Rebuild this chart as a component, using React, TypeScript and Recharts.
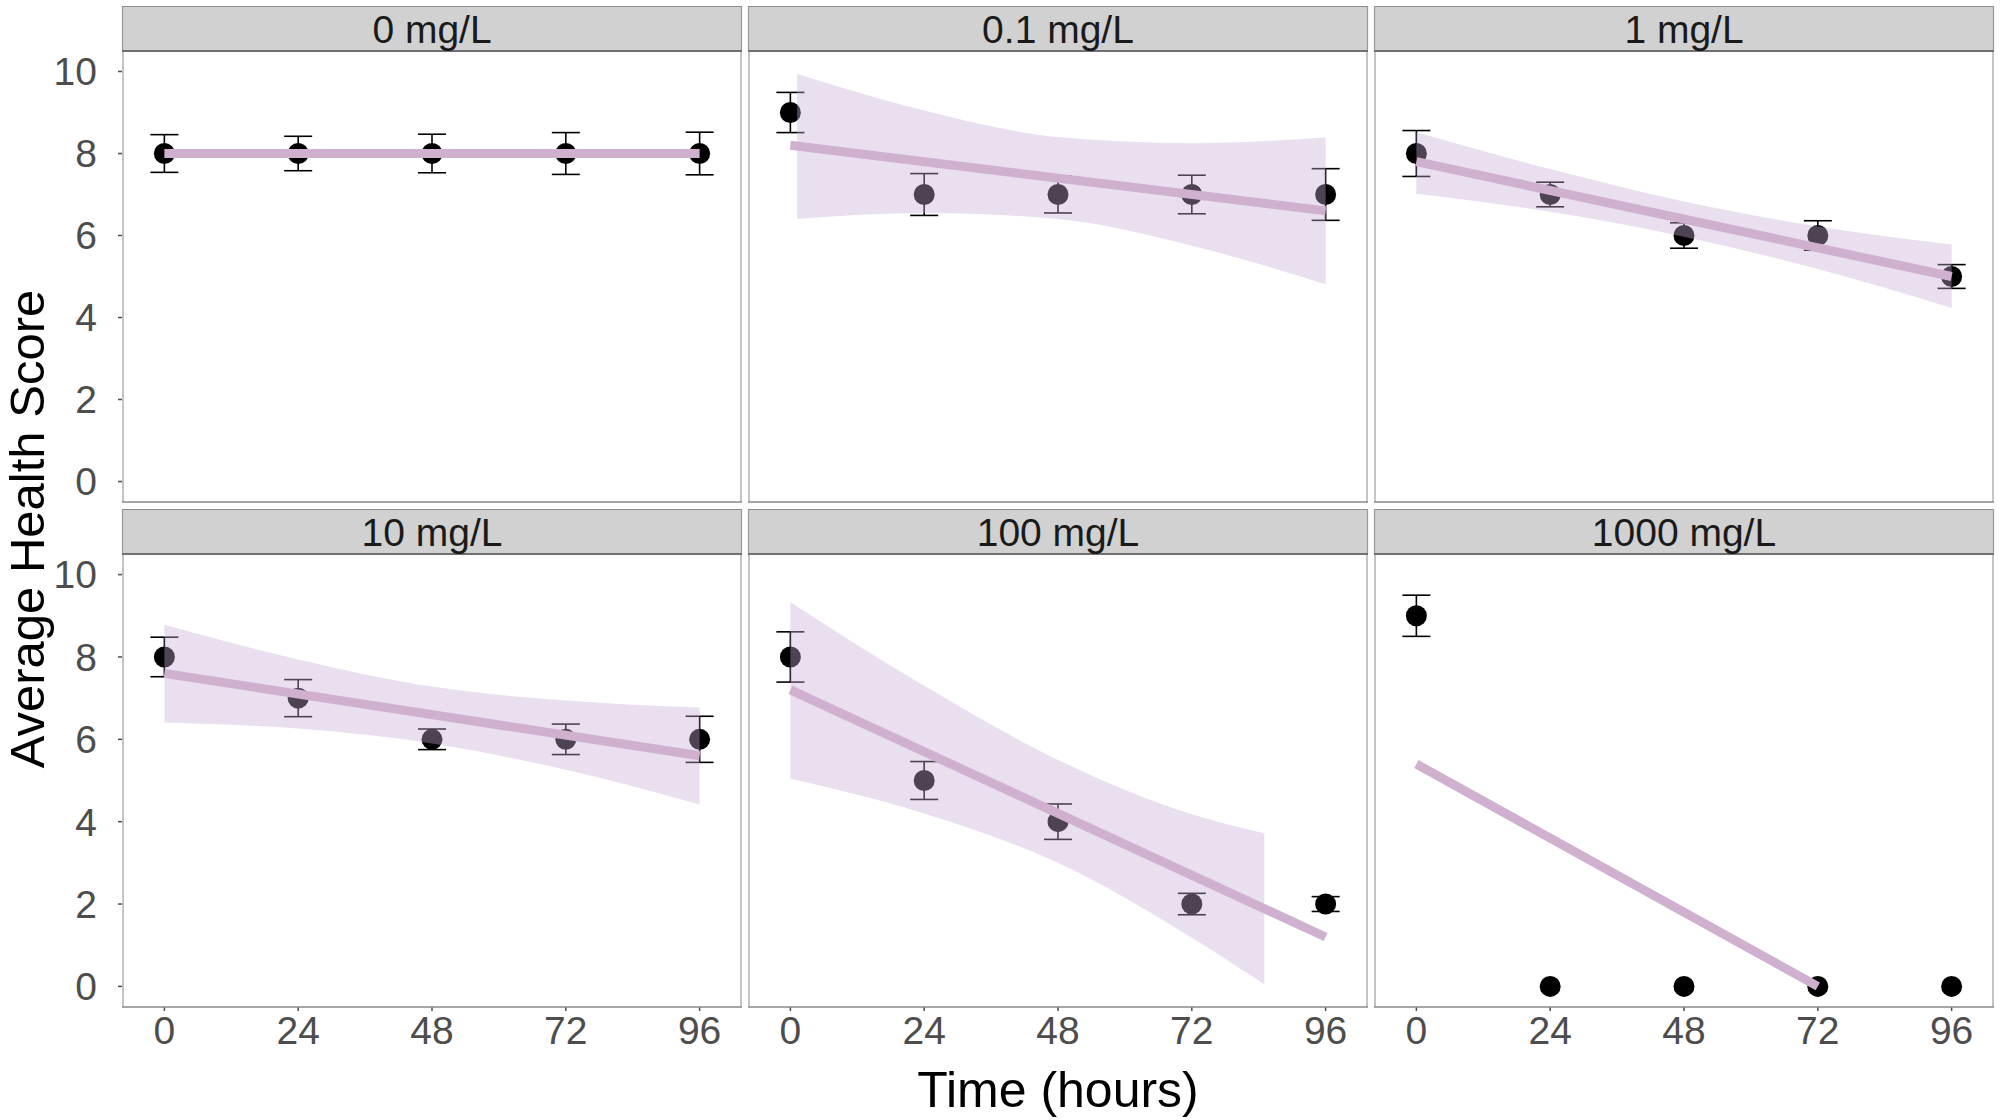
import React from "react";
import { ComposedChart, Scatter, ErrorBar, Line, Area, XAxis, YAxis } from "recharts";

// sampling times (hours) and facet labels
const hours = [0, 24, 48, 72, 96];
const doseLabels = ["0 mg/L", "0.1 mg/L", "1 mg/L", "10 mg/L", "100 mg/L", "1000 mg/L"];
const yTicks = [0, 2, 4, 6, 8, 10];

// mean health score and error (+/-) per time point
const mean0 = [8, 8, 8, 8, 8];
const err0 = [0.46, 0.42, 0.47, 0.51, 0.52];
const mean01 = [9, 7, 7, 7, 7];
const err01 = [0.49, 0.51, 0.45, 0.47, 0.63];
const mean1 = [8, 7, 6, 6, 5];
const err1 = [0.56, 0.3, 0.31, 0.36, 0.29];
const mean10 = [8, 7, 6, 6, 6];
const err10 = [0.48, 0.45, 0.25, 0.37, 0.56];
const mean100 = [8, 5, 4, 2, 2];
const err100 = [0.61, 0.46, 0.43, 0.26, 0.18];
const mean1000 = [9, 0, 0, 0, 0];
const err1000 = [0.5, 0, 0, 0, 0];

// fitted line end points
const fitX0 = [0, 96];
const fitY0 = [8, 8];
const fitX01 = [0, 96];
const fitY01 = [8.2, 6.6];
const fitX1 = [0, 96];
const fitY1 = [7.8, 5.0];
const fitX10 = [0, 96];
const fitY10 = [7.6, 5.6];
const fitX100 = [0, 96];
const fitY100 = [7.2, 1.2];
const fitX1000 = [0, 72];
const fitY1000 = [5.4, 0];

// confidence band
const bandX01 = [1.2, 24, 48, 72, 96];
const bandLo01 = [6.41, 6.55, 6.4, 5.75, 4.81];
const bandHi01 = [9.94, 9.05, 8.4, 8.25, 8.39];
const bandX1 = [0, 24, 48, 72, 96];
const bandLo1 = [7.02, 6.58, 5.97, 5.18, 4.23];
const bandHi1 = [8.52, 7.62, 6.83, 6.22, 5.78];
const bandX10 = [0, 24, 48, 72, 96];
const bandLo10 = [6.41, 6.26, 5.9, 5.26, 4.42];
const bandHi10 = [8.78, 7.94, 7.28, 6.94, 6.77];
const bandX100 = [0, 24, 48, 72, 85];
const bandLo100 = [5.04, 4.2, 3.0, 1.18, 0.05];
const bandHi100 = [9.33, 7.3, 5.5, 4.18, 3.72];

const panels = [
  { label: doseLabels[0], mean: mean0, err: err0, fitX: fitX0, fitY: fitY0, bandX: [], bandLo: [], bandHi: [] },
  { label: doseLabels[1], mean: mean01, err: err01, fitX: fitX01, fitY: fitY01, bandX: bandX01, bandLo: bandLo01, bandHi: bandHi01 },
  { label: doseLabels[2], mean: mean1, err: err1, fitX: fitX1, fitY: fitY1, bandX: bandX1, bandLo: bandLo1, bandHi: bandHi1 },
  { label: doseLabels[3], mean: mean10, err: err10, fitX: fitX10, fitY: fitY10, bandX: bandX10, bandLo: bandLo10, bandHi: bandHi10 },
  { label: doseLabels[4], mean: mean100, err: err100, fitX: fitX100, fitY: fitY100, bandX: bandX100, bandLo: bandLo100, bandHi: bandHi100 },
  { label: doseLabels[5], mean: mean1000, err: err1000, fitX: fitX1000, fitY: fitY1000, bandX: [], bandLo: [], bandHi: [] },
];

const FONT = "'Liberation Sans', Arial, Helvetica, sans-serif";
const COL_LEFT = [122, 748, 1374];
const PANEL_W = 620;
const STRIP_TOP = [6, 509];
const STRIP_H = 45;
const PLOT_TOP = [51, 554];
const PLOT_H = [451, 453];
const Y_AXIS_W = 122;
const X_AXIS_H = 70;

const Dot = (props: any) => <circle cx={props.cx} cy={props.cy} r={10.5} fill="#000" />;

const Facet = ({ idx }: { idx: number }) => {
  const p = panels[idx];
  const row = Math.floor(idx / 3);
  const col = idx % 3;
  const yw = col === 0 ? Y_AXIS_W : 0;
  const xh = row === 1 ? X_AXIS_H : 0;

  const points = hours.map((h, i) => ({ x: h, y: p.mean[i], err: p.err[i] }));
  const fit = p.fitX.map((x, i) => ({ x, y: p.fitY[i] }));
  const band = p.bandX.map((x, i) => ({ x, band: [p.bandLo[i], p.bandHi[i]] }));

  return (
    <div style={{ position: "absolute", left: COL_LEFT[col] - yw, top: PLOT_TOP[row] }}>
      <ComposedChart
        width={PANEL_W + yw}
        height={PLOT_H[row] + xh}
        margin={{ top: 0, right: 0, bottom: 0, left: 0 }}
      >
        <XAxis
          dataKey="x"
          type="number"
          domain={[-7.6, 103.6]}
          ticks={hours}
          interval={0}
          allowDataOverflow
          hide={row !== 1}
          height={xh}
          axisLine={false}
          tickLine={{ stroke: "#4D4D4D", strokeWidth: 1.5 }}
          tickSize={4}
          tickMargin={5}
          tick={{ fill: "#4D4D4D", fontSize: 39, fontFamily: FONT }}
        />
        <YAxis
          dataKey="y"
          type="number"
          domain={[-0.5, 10.5]}
          ticks={yTicks}
          interval={0}
          allowDataOverflow
          hide={col !== 0}
          width={yw}
          axisLine={false}
          tickLine={{ stroke: "#4D4D4D", strokeWidth: 1.5 }}
          tickSize={4}
          tickMargin={21}
          tick={{ fill: "#4D4D4D", fontSize: 39, fontFamily: FONT }}
        />
        <Scatter data={points} shape={Dot} isAnimationActive={false} zIndex={50}>
          <ErrorBar dataKey="err" direction="y" width={14} stroke="#000" strokeWidth={1.6} isAnimationActive={false} zIndex={40} />
        </Scatter>
        {band.length > 0 && (
          <Area
            data={band}
            dataKey="band"
            type="monotone"
            stroke="none"
            fill="#C8ADD5"
            fillOpacity={0.39}
            isAnimationActive={false}
            zIndex={100}
          />
        )}
        <Line
          data={fit}
          dataKey="y"
          type="linear"
          stroke="#CFB1CF"
          strokeWidth={9}
          dot={false}
          activeDot={false}
          isAnimationActive={false}
          zIndex={400}
        />
      </ComposedChart>
    </div>
  );
};

const Frames = () => (
  <svg width={2000} height={1120} style={{ position: "absolute", left: 0, top: 0, pointerEvents: "none" }}>
    {panels.map((p, idx) => {
      const row = Math.floor(idx / 3);
      const col = idx % 3;
      const x0 = COL_LEFT[col];
      const x1 = x0 + PANEL_W;
      const st = STRIP_TOP[row];
      const pt = PLOT_TOP[row];
      const pb = pt + PLOT_H[row];
      return (
        <g key={p.label}>
          <rect x={x0} y={st} width={PANEL_W} height={STRIP_H} fill="#D1D1D1" />
          <line x1={x0} x2={x1} y1={st + 0.5} y2={st + 0.5} stroke="#8C8C8C" strokeWidth={1.2} />
          <line x1={x0 + 0.5} x2={x0 + 0.5} y1={st} y2={pt} stroke="#9A9A9A" strokeWidth={1.2} />
          <line x1={x1 - 0.5} x2={x1 - 0.5} y1={st} y2={pt} stroke="#9A9A9A" strokeWidth={1.2} />
          <line x1={x0 + 1} x2={x0 + 1} y1={pt} y2={pb} stroke="#C4C4C4" strokeWidth={2} />
          <line x1={x1 - 1} x2={x1 - 1} y1={pt} y2={pb} stroke="#C4C4C4" strokeWidth={2} />
          <line x1={x0} x2={x1} y1={pb} y2={pb} stroke="#8A8A8A" strokeWidth={1.5} />
          <line x1={x0} x2={x1} y1={pt} y2={pt} stroke="#707070" strokeWidth={2} />
          <text
            x={(x0 + x1) / 2}
            y={st + 37}
            textAnchor="middle"
            fontFamily={FONT}
            fontSize={39}
            fill="#1A1A1A"
          >
            {p.label}
          </text>
        </g>
      );
    })}
    <text x={1058} y={1107} textAnchor="middle" fontFamily={FONT} fontSize={50} fill="#000">
      Time (hours)
    </text>
    <text
      x={44}
      y={529}
      textAnchor="middle"
      fontFamily={FONT}
      fontSize={49}
      fill="#000"
      transform="rotate(-90 44 529)"
    >
      Average Health Score
    </text>
  </svg>
);

export default function App() {
  return (
    <div style={{ position: "absolute", left: 0, top: 0, width: 2000, height: 1120, background: "#fff" }}>
      {panels.map((p, idx) => (
        <Facet key={p.label} idx={idx} />
      ))}
      <Frames />
    </div>
  );
}
